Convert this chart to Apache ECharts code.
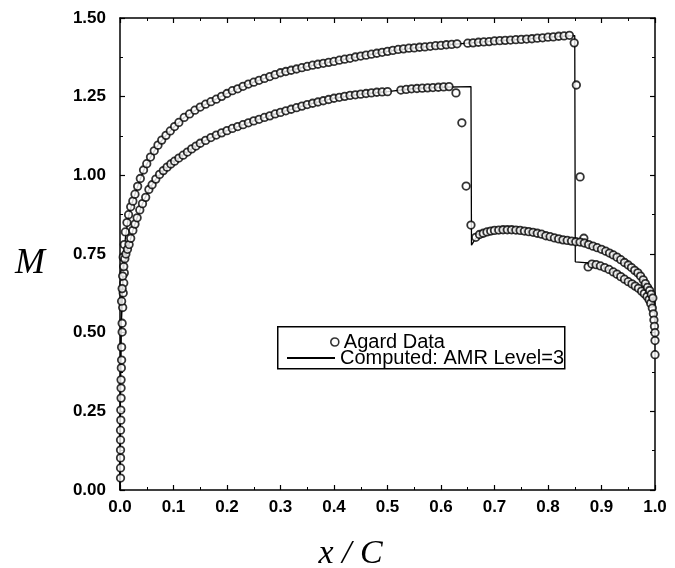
<!DOCTYPE html>
<html><head><meta charset="utf-8">
<script src="https://cdn.jsdelivr.net/npm/echarts@6/dist/echarts.min.js"></script>
<style>html,body{margin:0;padding:0;background:#fff}#c{width:675px;height:568px}</style>
</head><body><div id="c"></div>
<script>
// ---- Data ----
const xTicks = [0.0,0.1,0.2,0.3,0.4,0.5,0.6,0.7,0.8,0.9,1.0];
const yTicks = [0.00,0.25,0.50,0.75,1.00,1.25,1.50];

// Agard data, surface with shock near x/C = 0.85 (incl. stagnation region)
const upperX = [0.001,0.001,0.001,0.001,0.001,0.001,0.0015,0.0015,0.002,0.002,0.002,0.0025,0.003,0.003,0.004,0.004,0.005,0.006,0.007,0.008,
  0.006,0.008,0.01,0.013,0.016,0.02,0.024,0.028,0.033,0.038,0.044,0.05,0.057,0.064,0.071,0.078,0.086,0.094,0.102,0.11,0.12,0.13,0.14,0.15,
  0.16,0.17,0.18,0.19,0.20,0.21,0.22,0.23,0.24,0.25,0.26,0.27,0.28,0.29,0.30,0.31,0.32,0.33,0.34,0.35,0.36,0.37,0.38,0.39,0.40,
  0.41,0.42,0.43,0.44,0.45,0.46,0.47,0.48,0.49,0.50,0.51,0.52,0.53,0.54,0.55,0.56,0.57,0.58,0.59,0.60,0.61,0.62,0.63,0.65,0.66,
  0.67,0.68,0.69,0.70,0.71,0.72,0.73,0.74,0.75,0.76,0.77,0.78,0.79,0.80,0.81,0.82,0.83,0.84,
  0.849,0.853,0.86,0.867,0.875,0.882,0.89,0.898,0.906,0.914,0.922,0.929,0.936,0.943,0.95,0.957,0.963,0.969,0.975,0.98,0.985,0.989,
  0.992,0.995,0.997,0.998,0.999,1.0,1.0,1.0];
const upperM = [0.038,0.07,0.102,0.127,0.159,0.19,0.222,0.254,0.292,0.324,0.35,0.388,0.413,0.454,0.502,0.53,0.58,0.626,0.658,0.69,
  0.74,0.78,0.82,0.85,0.875,0.90,0.918,0.94,0.965,0.99,1.017,1.037,1.058,1.078,1.096,1.112,1.127,1.141,1.155,1.168,1.184,1.195,1.207,1.217,
  1.226,1.234,1.242,1.251,1.260,1.269,1.275,1.283,1.290,1.296,1.302,1.308,1.314,1.320,1.326,1.330,1.334,1.338,1.342,1.346,1.350,1.353,1.356,1.359,1.362,
  1.366,1.369,1.372,1.376,1.379,1.382,1.385,1.388,1.391,1.394,1.397,1.400,1.402,1.404,1.405,1.407,1.408,1.410,1.412,1.413,1.415,1.416,1.418,1.420,1.421,
  1.423,1.424,1.425,1.427,1.428,1.429,1.430,1.431,1.432,1.433,1.434,1.436,1.437,1.439,1.440,1.442,1.443,1.445,
  1.421,1.287,0.995,0.80,0.709,0.718,0.716,0.712,0.707,0.701,0.693,0.686,0.678,0.670,0.662,0.655,0.648,0.641,0.632,0.624,0.615,0.605,
  0.593,0.578,0.56,0.54,0.52,0.50,0.475,0.43];

// Agard data, surface with shock near x/C = 0.655
const lowerX = [0.003,0.004,0.005,0.007,0.009,0.011,0.014,0.017,0.02,0.024,0.028,0.032,0.037,0.042,0.048,0.054,0.06,0.067,0.074,0.081,0.088,0.095,
  0.102,0.11,0.118,0.126,0.134,0.142,0.15,0.16,0.17,0.18,0.19,0.20,0.21,0.22,0.23,0.24,0.25,0.26,0.27,0.28,0.29,0.30,0.31,0.32,0.33,0.34,0.35,
  0.36,0.37,0.38,0.39,0.40,0.41,0.42,0.43,0.44,0.45,0.46,0.47,0.48,0.49,0.50,0.525,0.535,0.545,0.555,0.565,0.575,0.585,0.595,0.605,0.615,
  0.628,0.639,0.647,0.656,0.665,
  0.672,0.679,0.686,0.693,0.70,0.708,0.716,0.724,0.732,0.74,0.748,0.756,0.764,0.772,0.78,0.788,0.796,0.804,0.812,0.82,0.828,0.836,0.844,
  0.852,0.86,0.868,0.876,0.884,0.892,0.90,0.908,0.915,0.922,0.929,0.936,0.943,0.95,0.956,0.962,0.968,0.973,0.978,0.982,0.986,0.99,0.993,0.996];
const lowerM = [0.60,0.64,0.68,0.71,0.735,0.75,0.765,0.78,0.80,0.825,0.845,0.865,0.89,0.91,0.93,0.955,0.97,0.988,1.003,1.015,1.026,1.036,
  1.045,1.055,1.064,1.074,1.084,1.093,1.102,1.111,1.12,1.128,1.135,1.142,1.149,1.155,1.161,1.167,1.173,1.178,1.184,1.189,1.195,1.200,1.205,1.210,1.215,1.220,1.225,
  1.229,1.233,1.237,1.241,1.245,1.248,1.251,1.254,1.256,1.258,1.260,1.262,1.264,1.265,1.266,1.271,1.273,1.275,1.276,1.277,1.278,1.279,1.280,1.281,1.282,
  1.262,1.167,0.966,0.842,0.803,
  0.812,0.816,0.82,0.823,0.825,0.826,0.827,0.827,0.827,0.826,0.825,0.823,0.821,0.819,0.816,0.813,0.808,0.805,0.801,0.798,0.795,0.793,0.791,
  0.789,0.788,0.785,0.78,0.775,0.77,0.765,0.759,0.753,0.747,0.74,0.732,0.723,0.715,0.707,0.698,0.69,0.68,0.668,0.656,0.644,0.634,0.622,0.61];

// Computed solution (AMR level 3)
const compUpperX = [0,0.0005,0.001,0.002,0.004,0.006,0.01,0.016,0.024,0.033,0.044,0.057,0.071,0.086,0.102,0.12,0.15,0.2,0.25,0.3,0.35,0.4,0.45,0.5,
  0.55,0.6,0.65,0.7,0.75,0.8,0.85,0.851,0.875,0.9,0.929,0.95,0.97,0.985,0.995,1.0];
const compUpperM = [0,0.2,0.35,0.5,0.62,0.72,0.8,0.87,0.92,0.965,1.015,1.058,1.096,1.127,1.155,1.184,1.217,1.26,1.296,1.326,1.346,1.362,1.379,1.394,
  1.405,1.413,1.42,1.427,1.432,1.439,1.444,0.725,0.722,0.712,0.686,0.662,0.64,0.615,0.59,0.58];
const compLowerX = [0,0.0005,0.001,0.002,0.004,0.007,0.011,0.017,0.024,0.032,0.042,0.054,0.067,0.081,0.095,0.11,0.126,0.142,0.16,0.18,0.2,0.25,0.3,
  0.35,0.4,0.45,0.5,0.55,0.6,0.656,0.657,0.665,0.68,0.7,0.73,0.76,0.8,0.84,0.88,0.92,0.95,0.97,0.985,0.995,1.0];
const compLowerM = [0,0.2,0.35,0.5,0.62,0.71,0.75,0.78,0.825,0.865,0.91,0.955,0.988,1.015,1.036,1.055,1.074,1.093,1.111,1.128,1.142,1.173,1.200,
  1.225,1.245,1.258,1.266,1.276,1.280,1.282,0.778,0.80,0.814,0.824,0.827,0.822,0.805,0.792,0.778,0.748,0.715,0.685,0.648,0.615,0.59];

const zip = (xs, ys) => xs.map((x, i) => [x, ys[i]]);

const chart = echarts.init(document.getElementById('c'), null, {renderer: 'canvas'});
const txt = {color: '#000', fontFamily: 'Liberation Sans, Arial, sans-serif', fontWeight: 'bold', fontSize: 17};
const axLine = {show: true, onZero: false, lineStyle: {color: '#000', width: 1.5}};
const tick = {show: true, inside: true, length: 5, lineStyle: {color: '#000', width: 1.2}};
const mtick = {show: true, splitNumber: 2, length: 3, lineStyle: {color: '#000', width: 1}};
const legFont = {color: '#000', fontFamily: 'Liberation Sans, Arial, sans-serif', fontSize: 20};

chart.setOption({
  animation: false,
  backgroundColor: '#fff',
  grid: {left: 120, right: 20, top: 18, bottom: 78, containLabel: false, outerBoundsMode: 'none'},
  xAxis: [
    {type: 'value', min: 0, max: 1, interval: 0.1, axisLine: axLine, axisTick: tick, minorTick: mtick,
     splitLine: {show: false},
     axisLabel: Object.assign({margin: 9, formatter: v => v.toFixed(1)}, txt),
     name: 'x / C', nameLocation: 'middle', nameGap: 47,
     nameTextStyle: {fontFamily: 'Liberation Serif, Times New Roman, serif', fontStyle: 'italic', fontSize: 34, color: '#000',
                     padding: [0, 74, 0, 0]}},
    {type: 'value', min: 0, max: 1, interval: 0.1, position: 'top', axisLine: axLine, axisTick: tick, minorTick: mtick,
     splitLine: {show: false}, axisLabel: {show: false}}
  ],
  yAxis: [
    {type: 'value', min: 0, max: 1.5, interval: 0.25, axisLine: axLine, axisTick: tick, minorTick: mtick,
     splitLine: {show: false},
     axisLabel: Object.assign({margin: 14, formatter: v => v.toFixed(2)}, txt),
     name: 'M', nameLocation: 'middle', nameRotate: 0, nameGap: 75,
     nameTextStyle: {fontFamily: 'Liberation Serif, Times New Roman, serif', fontStyle: 'italic', fontSize: 36, color: '#000',
                     verticalAlign: 'top', lineHeight: 20}},
    {type: 'value', min: 0, max: 1.5, interval: 0.25, position: 'right', axisLine: axLine, axisTick: tick, minorTick: mtick,
     splitLine: {show: false}, axisLabel: {show: false}}
  ],
  legend: [
    {data: [{name: 'Agard Data', icon: 'circle', itemStyle: {color: '#fff', borderColor: '#000', borderWidth: 1.6}}],
     left: 325, top: 327, itemWidth: 8, itemHeight: 8, itemGap: 5, selectedMode: false, textStyle: legFont},
    {data: [{name: 'Computed: AMR Level=3', itemStyle: {opacity: 0}}],
     left: 281, top: 343, itemWidth: 48, itemHeight: 10, selectedMode: false, textStyle: legFont}
  ],
  graphic: [
    {type: 'rect', left: 277, top: 326, shape: {width: 287, height: 42}, z: 1,
     style: {fill: '#fff', stroke: '#000', lineWidth: 1.5}}
  ],
  series: [
    {name: 'Computed: AMR Level=3', type: 'line', data: zip(compUpperX, compUpperM), showSymbol: false, symbol: 'none',
     lineStyle: {color: '#000', width: 1.3}, itemStyle: {color: '#000'}, z: 3},
    {name: 'Computed: AMR Level=3', type: 'line', data: zip(compLowerX, compLowerM), showSymbol: false, symbol: 'none',
     lineStyle: {color: '#000', width: 1.3}, itemStyle: {color: '#000'}, z: 3},
    {name: 'Agard Data', type: 'scatter', data: zip(upperX, upperM).concat(zip(lowerX, lowerM)), symbol: 'circle', symbolSize: 7.5,
     itemStyle: {color: '#fff', borderColor: '#000', borderWidth: 1.8}, z: 4}
  ]
});
</script></body></html>
